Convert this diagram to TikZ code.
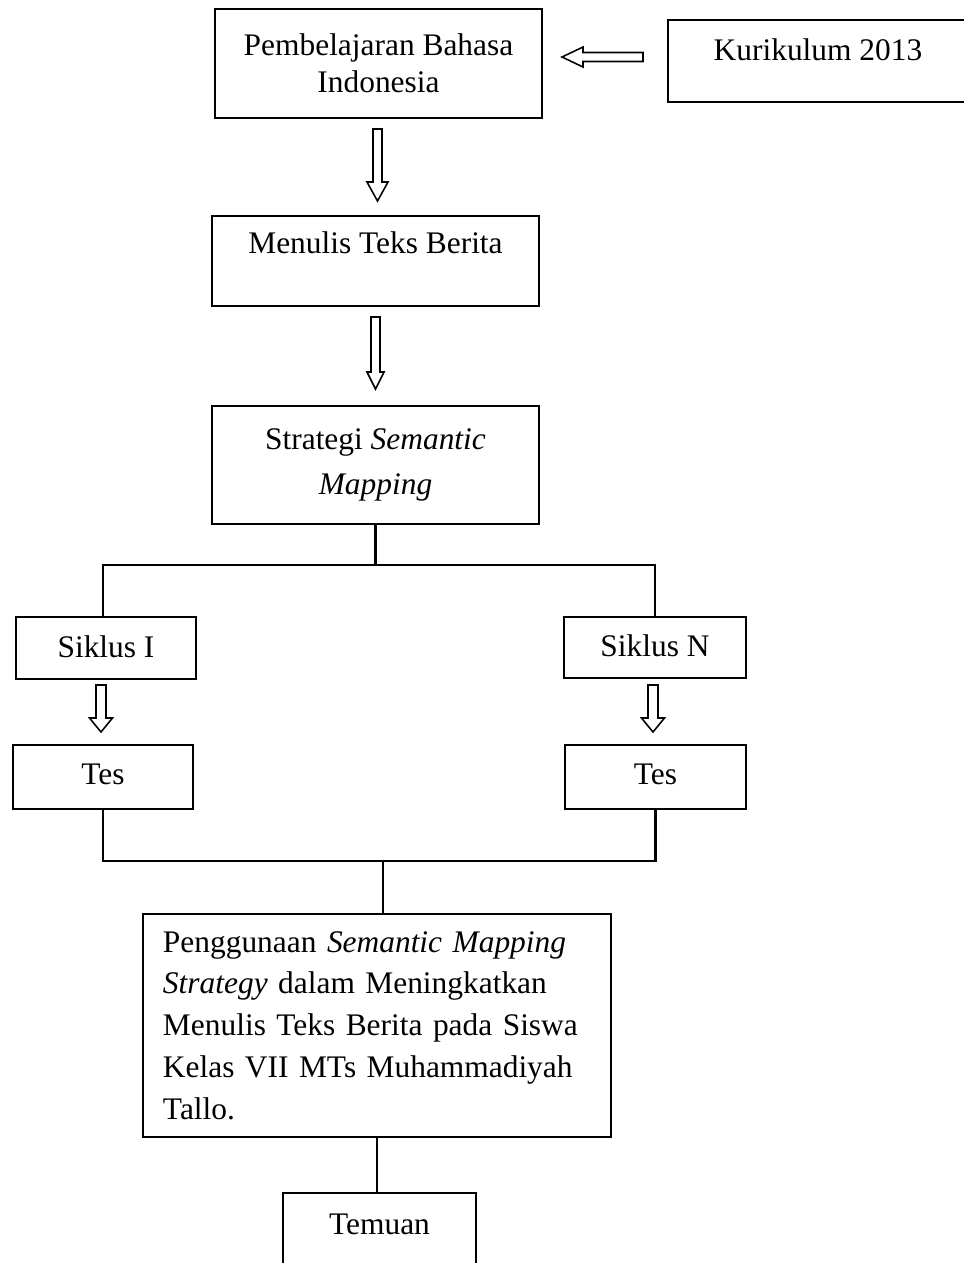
\documentclass[tikz,border=0pt]{standalone}
\usepackage{fontspec}
\setmainfont{Liberation Serif}
\usetikzlibrary{positioning}
\newcommand{\px}{0.382pt}

\tikzset{
  box/.style={draw, line width=0.8pt, inner sep=0pt, align=center, font=\fontsize{12}{14}\selectfont},
  onebox/.style={box, text height=8.5pt, text depth=#1},
  link/.style={line width=0.8pt},
  pics/hollow/.style n args={4}{code={
    \draw[line width=0.6pt, line join=miter] (0,-#3) -- ({#1-#2},-#3) -- ({#1-#2},-#4) -- (#1,0)
      -- ({#1-#2},#4) -- ({#1-#2},#3) -- (0,#3) -- cycle;
  }}
}

\begin{document}
\begin{tikzpicture}[x=\px, y=-\px]
\useasboundingbox (0,0) rectangle (963,1263);

\node[box, minimum width=327*\px, minimum height=109*\px, font=\fontsize{12}{14.13}\selectfont]
  (pembelajaran) at (378.5,63.5) {Pembelajaran Bahasa\\Indonesia};
% box runs off the right edge of the page
\node[onebox=9.26pt, minimum width=320*\px, minimum height=82*\px] (kurikulum) at (828,61)
  {Kurikulum 2013\hspace*{7.64pt}};
\node[onebox=14.6pt, minimum width=327*\px, minimum height=90*\px] (menulis) at (375.5,261) {Menulis Teks Berita};
\node[box, minimum width=327*\px, minimum height=118*\px, font=\fontsize{12}{17}\selectfont]
  (strategi) at (375.5,465) {Strategi \textit{Semantic}\\\textit{Mapping}};

\node[onebox=1.6pt, minimum width=180*\px, minimum height=62*\px] (siklusI) at (106,648) {Siklus I};
\node[onebox=1.6pt, minimum width=182*\px, minimum height=61*\px] (siklusN) at (655,647.5) {Siklus N};
\node[onebox=3.15pt, minimum width=180*\px, minimum height=64*\px] (tesI) at (103,777) {Tes};
\node[onebox=3.15pt, minimum width=181*\px, minimum height=64*\px] (tesN) at (655.5,777) {Tes};

\node[box, align=left, text width=163.5pt, inner xsep=7.64pt, minimum height=223*\px,
  font=\fontsize{12}{15.95}\selectfont] (penggunaan) at (377,1025.5)
  {Penggunaan \textit{Semantic Mapping}\\
   \textit{Strategy} dalam Meningkatkan\\
   Menulis Teks Berita pada Siswa\\
   Kelas VII MTs Muhammadiyah\\
   Tallo.};
\node[onebox=15.4pt, anchor=north, minimum width=193*\px, minimum height=100*\px] (temuan) at (379.5,1192) {Temuan};

\pic[rotate=180] at (643,57) {hollow={81}{21}{4.5}{10}};
\pic[rotate=-90] at (377.5,129) {hollow={72}{19}{4.5}{10.5}};
\pic[rotate=-90] at (375.5,317) {hollow={72}{17}{4.5}{8.5}};
\pic[rotate=-90] at (101,685) {hollow={47}{14}{5}{11.5}};
\pic[rotate=-90] at (653,685) {hollow={47}{14}{5}{11.5}};

\coordinate (split) at (375.5,565);
\coordinate (join) at (383,861);
\draw[link] (strategi.south) -- (split);
\draw[link] (siklusI.north -| tesI.south) |- (split) -| (siklusN.north);
\draw[link] (tesI.south) |- (join) -| (tesN.south);
\draw[link] (join) -- (join |- penggunaan.north);
\draw[link] (penggunaan.south) -- (penggunaan.south |- temuan.north);

\end{tikzpicture}
\end{document}
